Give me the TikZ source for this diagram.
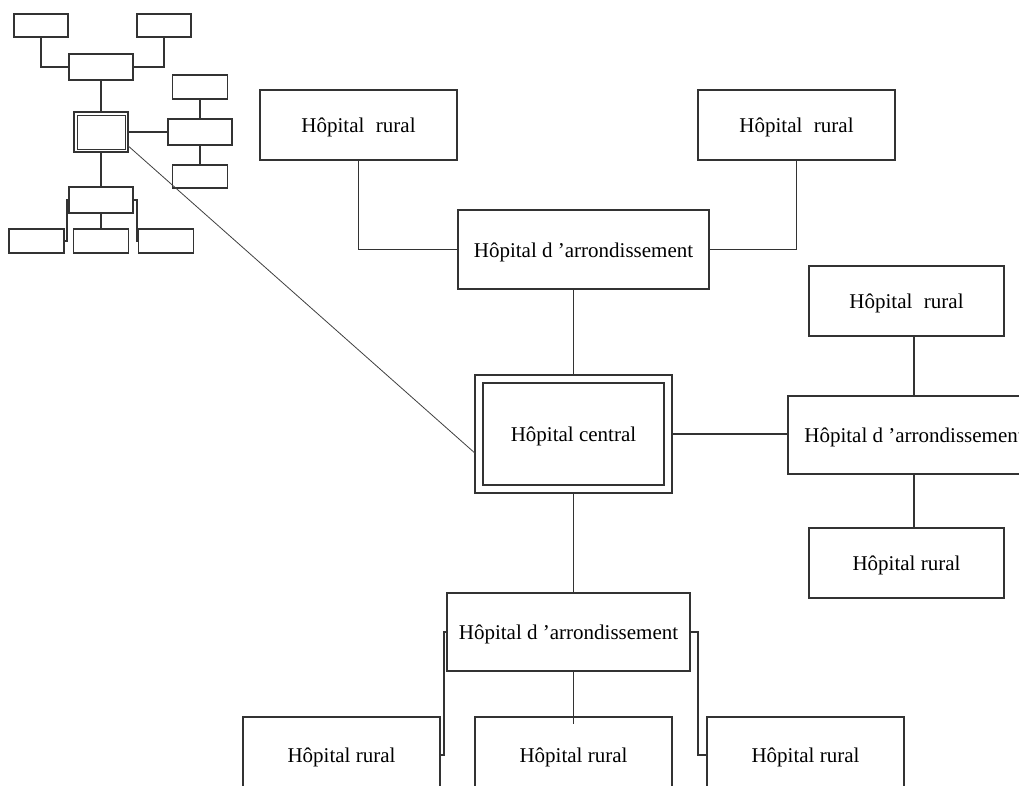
\documentclass[tikz,border=0pt]{standalone}
\usepackage{fontspec}
\setmainfont{Liberation Serif}
\begin{document}
\begin{tikzpicture}[x=1pt,y=-1pt,
  line/.style={draw=black!80,line width=1.1pt},
  hbox/.style={line,rectangle,inner sep=0pt,outer sep=0pt,
    font=\fontsize{21}{25}\selectfont,text height=1.78em,text depth=0.22em},
  mbox/.style={line,rectangle,inner sep=0pt,outer sep=0pt},
  link/.style={line}]
\useasboundingbox (0,0) rectangle (1019,785);
\clip (0,0) rectangle (1019,785);
\fill[white] (0,0) rectangle (1019,785);

% ---- overview miniature ----
\node[mbox,minimum width=54,minimum height=23] (mA) at (41,25.5) {};
\node[mbox,minimum width=54,minimum height=23] (mB) at (164,25.5) {};
\node[mbox,minimum width=64,minimum height=26] (mC) at (101,67) {};
\node[mbox,minimum width=54,minimum height=40] (mX) at (101,132) {};
\node[mbox,minimum width=48,minimum height=34,line width=0.9pt] (mXi) at (101,132) {};
\node[mbox,minimum width=55,minimum height=24] (mD) at (200,87) {};
\node[mbox,minimum width=64,minimum height=26] (mE) at (200,132) {};
\node[mbox,minimum width=55,minimum height=23] (mF) at (200,176.5) {};
\node[mbox,minimum width=64,minimum height=26] (mG) at (101,200) {};
\node[mbox,minimum width=55,minimum height=24] (mH) at (36.5,241) {};
\node[mbox,minimum width=55,minimum height=24] (mI) at (101,241) {};
\node[mbox,minimum width=55,minimum height=24] (mJ) at (166,241) {};

\draw[link] (mA.south) |- (mC.west);
\draw[link] (mB.south) |- (mC.east);
\draw[link] (mC.south) -- (mX.north);
\draw[link] (mX.east) -- (mE.west);
\draw[link] (mD.south) -- (mE.north);
\draw[link] (mE.south) -- (mF.north);
\draw[link] (mX.south) -- (mG.north);
\draw[link] (mG.south) -- (mI.north);
\draw[link] (mG.west) -- ++(-2,0) |- (mH.east);
\draw[link] (mG.east) -- ++(4,0) |- (mJ.west);

% ---- main network ----
\node[hbox,minimum width=197,minimum height=70] (rTL) at (358.5,125) {Hôpital\hspace{0.55em}rural};
\node[hbox,minimum width=197,minimum height=70] (rTR) at (796.5,125) {Hôpital\hspace{0.55em}rural};
\node[hbox,minimum width=251,minimum height=79] (aTop) at (583.5,249.5) {Hôpital d ’arrondissement};

\node[hbox,minimum width=197,minimum height=118] (cen) at (573.5,434) {};
\node[hbox,minimum width=181,minimum height=102] (ceni) at (573.5,434) {Hôpital central};

\node[hbox,minimum width=195,minimum height=70] (rR1) at (906.5,301) {Hôpital\hspace{0.55em}rural};
\node[hbox,minimum width=252,minimum height=78] (aR) at (914,435) {Hôpital d ’arrondissement};
\node[hbox,minimum width=195,minimum height=70] (rR2) at (906.5,563) {Hôpital rural};

\node[hbox,minimum width=243,minimum height=78] (aBot) at (568.5,632) {Hôpital d ’arrondissement};
\node[hbox,minimum width=197,minimum height=76] (rB1) at (341.5,755) {Hôpital rural};
\node[hbox,minimum width=197,minimum height=76] (rB2) at (573.5,755) {Hôpital rural};
\node[hbox,minimum width=197,minimum height=76] (rB3) at (805.5,755) {Hôpital rural};

\draw[link] (rTL.south) |- (aTop.west);
\draw[link] (rTR.south) |- (aTop.east);
\draw[link] (cen.north) -- (cen.north |- aTop.south);
\draw[link] (cen.east) -- (cen.east -| aR.west);
\draw[link] (aR.north) -- (aR.north |- rR1.south);
\draw[link] (aR.south) -- (aR.south |- rR2.north);
\draw[link] (cen.south) -- (cen.south |- aBot.north);
\draw[link] (rB2.north |- aBot.south) -- ([yshift=-7pt]rB2.north);
\draw[link] (aBot.west) -- ++(-3,0) |- (rB1.east);
\draw[link] (aBot.east) -- ++(8,0) |- (rB3.west);

% zoom line from the miniature to the central hospital
\draw[draw=black!75,line width=0.8pt] (mX.-27) -- (cen.191);
\end{tikzpicture}
\end{document}
